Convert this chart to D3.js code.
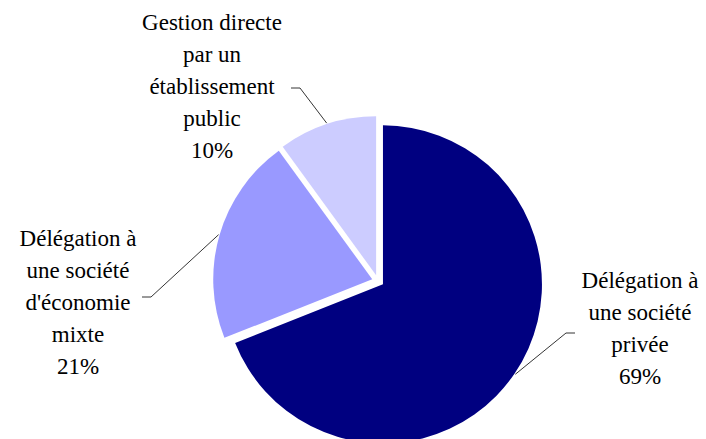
<!DOCTYPE html>
<html>
<head>
<meta charset="utf-8">
<script src="https://cdn.jsdelivr.net/npm/d3@7"></script>
<style>
  html, body { margin: 0; padding: 0; background: #fff; }
  .label { font-family: "Liberation Serif", serif; font-size: 23px; fill: #000; }
  .preload { position: absolute; left: 0; top: 0; visibility: hidden; font-family: "Liberation Serif", serif; font-size: 23px; }
</style>
</head>
<body>
<div class="preload">Gestion directe Délégation à 10%</div>
<svg id="chart" xmlns="http://www.w3.org/2000/svg"></svg>
<script>
// slice data (clockwise from 12 o'clock)
const categories = [
    ["Délégation à", "une société", "privée"],
    ["Délégation à", "une société", "d'économie", "mixte"],
    ["Gestion directe", "par un", "établissement", "public"]
];
const values = [69, 21, 10];
const colors = ["#000080", "#9999ff", "#ccccff"];

// where each label block sits and where its leader line bends
const labelLayout = [
    { x: 640, y: 288, elbow: [566, 333], tick: [575, 333] },
    { x: 78, y: 246, elbow: [151, 297], tick: [142, 297] },
    { x: 212, y: 30, elbow: [300, 88], tick: [291, 88] }
];

const width = 706;
const height = 439;
const radius = 159;
const explode = 6;
const cx = 378, cy = 281;

const svg = d3.select("#chart")
    .attr("width", width)
    .attr("height", height);

const pie = d3.pie().sort(null).value(d => d)(values);
const arc = d3.arc().innerRadius(0).outerRadius(radius);

const g = svg.append("g").attr("transform", `translate(${cx},${cy})`);

function offset(d, r) {
    const a = (d.startAngle + d.endAngle) / 2;
    return [Math.sin(a) * r, -Math.cos(a) * r];
}

g.selectAll("path")
    .data(pie)
    .join("path")
    .attr("d", arc)
    .attr("transform", d => `translate(${offset(d, explode)})`)
    .attr("fill", (d, i) => colors[i]);

// leader lines
pie.forEach((d, i) => {
    const o = offset(d, explode);
    const p = offset(d, radius + 1);
    const L = labelLayout[i];
    const pts = [[cx + o[0] + p[0], cy + o[1] + p[1]], L.elbow, L.tick];
    svg.append("path")
        .attr("d", d3.line()(pts))
        .attr("fill", "none")
        .attr("stroke", "#000")
        .attr("stroke-width", 0.8);
});

// labels, one text element per line
categories.forEach((lines, i) => {
    const L = labelLayout[i];
    svg.append("g")
        .selectAll("text")
        .data(lines.concat([values[i] + "%"]))
        .join("text")
        .attr("class", "label")
        .attr("text-anchor", "middle")
        .attr("x", L.x)
        .attr("y", (s, j) => L.y + j * 32)
        .text(s => s);
});
</script>
</body>
</html>
